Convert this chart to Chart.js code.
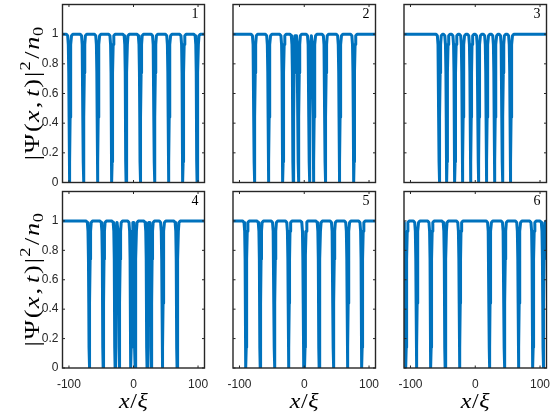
<!DOCTYPE html>
<html>
<head>
<meta charset="utf-8">
<script src="https://cdn.jsdelivr.net/npm/chart.js@4.4.1/dist/chart.umd.min.js"></script>
<style>
  html, body { margin: 0; padding: 0; background: #fff; }
  #wrap { position: relative; width: 553px; height: 412px; }
  #wrap canvas { position: absolute; left: 0; top: 0; }
</style>
</head>
<body>
<div id="wrap"></div>
<script>
const X_MIN = -110, X_MAX = 110;
const Y_MAX = 1.2;
const xTicks = [-100, 0, 100];
const yTicks = [0, 0.2, 0.4, 0.6, 0.8, 1];
const panelNames = ['1', '2', '3', '4', '5', '6'];

// centres of the density dips (x/ξ)
const dips1 = [-99, -77.5, -55.5, -33.5, -11.5, 10.5, 32.5, 54.5, 76.5, 98.5];
const dips2 = [-77, -55, -33, -17, -9, 8, 14.5, 32.5, 54.5, 76.5];
const dips3 = [-55.5, -44, -31.5, -19.5, -7, 5, 17.5, 30, 42, 54.5];
const dips4 = [-68.5, -47, -28.5, -22, -4, 2.5, 21, 27.5, 45, 67.5];
const dips5 = [-90, -68, -46, -24, -0.8, 0.8, 23, 45, 67, 89];
const dips6 = [-107, -90.5, -68.5, -46.5, -24, 22, 45, 67, 89, 105];
const allDips = [dips1, dips2, dips3, dips4, dips5, dips6];

// profile of one dip around its centre
const dipOffset = [-5, -3, -2, -1.3, -0.8, -0.4, 0, 0.4, 0.8, 1.3, 2, 3, 5];
const dipLevel  = [1, 0.99, 0.93, 0.74, 0.44, 0.14, 0, 0.14, 0.44, 0.74, 0.93, 0.99, 1];

// panel frames in page pixels
const colLeft  = [62.5, 233, 404];
const colRight = [204.5, 375.5, 546.5];
const rowTop    = [4.5, 191.5];
const rowBottom = [182.5, 368];

const BLUE = '#0072BD';
const AXIS = '#262626';
const TICK = 2.5;
const Y_AXIS_W = 40;
const X_AXIS_H = 30;

function levelAt(d) {
    const n = dipOffset.length;
    if (d <= dipOffset[0] || d >= dipOffset[n - 1]) return 1;
    for (let i = 1; i < n; i++) {
        if (d <= dipOffset[i]) {
            const t = (d - dipOffset[i - 1]) / (dipOffset[i] - dipOffset[i - 1]);
            return dipLevel[i - 1] + t * (dipLevel[i] - dipLevel[i - 1]);
        }
    }
    return 1;
}

function buildProfile(dips) {
    let xs = [X_MIN, X_MAX];
    dips.forEach(c => dipOffset.forEach(o => xs.push(c + o)));
    xs = xs.filter(v => v >= X_MIN && v <= X_MAX).sort((a, b) => a - b);
    return xs.map(v => ({ x: v, y: Math.min(...dips.map(c => levelAt(v - c))) }));
}

/**
 * Draws a LaTeX-like label made of pieces (italic / upright / sup / sub).
 */
function drawMath(ctx, parts, cx, cy, size, rotate, stretch) {
    const fontFor = p => {
        const s = (p.sup || p.sub) ? size * 0.7 : size;
        return (p.it ? 'italic ' : '') + s + 'px "Liberation Serif"';
    };
    let total = 0;
    parts.forEach(p => { ctx.font = fontFor(p); p.w = ctx.measureText(p.t).width + (p.gap || 0); total += p.w; });
    ctx.save();
    ctx.translate(cx, cy);
    if (rotate) ctx.rotate(-Math.PI / 2);
    ctx.scale(stretch, 1);
    ctx.fillStyle = '#000';
    ctx.textBaseline = 'alphabetic';
    ctx.textAlign = 'left';
    let x = -total / 2;
    const base = size * 0.33;
    parts.forEach(p => {
        ctx.font = fontFor(p);
        let dy = 0;
        if (p.sup) dy = -size * 0.42;
        if (p.sub) dy = size * 0.18;
        ctx.fillText(p.t, x, base + dy);
        x += p.w;
    });
    ctx.restore();
}

const yTitle = [
    { t: '|', gap: 1.5 }, { t: 'Ψ', gap: 1.5 }, { t: '(', gap: 1 }, { t: 'x', it: true, gap: 1.5 },
    { t: ',', gap: 4 }, { t: 't', it: true, gap: 1.5 }, { t: ')', gap: 1.5 }, { t: '|', gap: 1 },
    { t: '2', sup: true, gap: 2 }, { t: '/', gap: 1.5 }, { t: 'n', it: true, gap: 0.5 }, { t: '0', sub: true }
];
const xTitle = [{ t: 'x', it: true, gap: 0.5 }, { t: '/', gap: 0.5 }, { t: 'ξ', it: true }];

const framePlugin = {
    id: 'frame',
    afterDatasetsDraw(chart, args, opts) {
        const { ctx, chartArea: a, scales: { x, y } } = chart;
        ctx.save();
        ctx.strokeStyle = AXIS;
        ctx.lineWidth = 1;
        ctx.beginPath();
        xTicks.forEach(v => {
            const px = x.getPixelForValue(v);
            ctx.moveTo(px, a.bottom); ctx.lineTo(px, a.bottom - TICK);
            ctx.moveTo(px, a.top); ctx.lineTo(px, a.top + TICK);
        });
        yTicks.forEach(v => {
            const py = y.getPixelForValue(v);
            ctx.moveTo(a.left, py); ctx.lineTo(a.left + TICK, py);
            ctx.moveTo(a.right, py); ctx.lineTo(a.right - TICK, py);
        });
        ctx.stroke();
        ctx.lineWidth = 1.4;
        ctx.strokeRect(a.left, a.top, a.right - a.left, a.bottom - a.top);

        ctx.fillStyle = '#000';
        ctx.font = '14px "Liberation Serif"';
        ctx.textAlign = 'right';
        ctx.textBaseline = 'middle';
        ctx.fillText(opts.name, a.right - 6, a.top + 10);

        if (opts.leftCol) drawMath(ctx, yTitle, 32, (a.top + a.bottom) / 2, 21, true, 1.25);
        if (opts.bottomRow) drawMath(ctx, xTitle, (a.left + a.right) / 2, 401, 20, false, 1.2);
        ctx.restore();
    }
};

function renderPanel(i) {
    const col = i % 3, row = Math.floor(i / 3);
    const leftCol = col === 0, bottomRow = row === 1;
    const canvas = document.createElement('canvas');
    canvas.width = 553; canvas.height = 412;
    canvas.style.width = '553px'; canvas.style.height = '412px';
    document.getElementById('wrap').appendChild(canvas);

    new Chart(canvas.getContext('2d'), {
        type: 'line',
        data: {
            datasets: [{
                data: buildProfile(allDips[i]),
                borderColor: BLUE,
                borderWidth: 3,
                borderJoinStyle: 'round',
                borderCapStyle: 'round',
                pointRadius: 0,
                tension: 0,
                fill: false
            }]
        },
        options: getPanelOptions(i, leftCol, bottomRow),
        plugins: [framePlugin]
    });
}

function getPanelOptions(i, leftCol, bottomRow) {
    const col = i % 3, row = Math.floor(i / 3);
    const tickFont = { family: '"Liberation Sans", Arial, sans-serif', size: 12 };
    return {
        responsive: false,
        animation: false,
        events: [],
        layout: {
            autoPadding: false,
            padding: {
                left: colLeft[col] - (leftCol ? Y_AXIS_W : 0),
                right: 553 - colRight[col],
                top: rowTop[row],
                bottom: 412 - rowBottom[row] - (bottomRow ? X_AXIS_H : 0)
            }
        },
        plugins: {
            legend: { display: false },
            tooltip: { enabled: false },
            frame: { name: panelNames[i], leftCol, bottomRow }
        },
        scales: {
            x: {
                type: 'linear',
                min: X_MIN, max: X_MAX,
                display: bottomRow,
                afterBuildTicks: s => { s.ticks = xTicks.map(v => ({ value: v })); },
                afterFit: s => {
                    s.height = bottomRow ? X_AXIS_H : 0;
                    s.paddingLeft = 0; s.paddingRight = 0; s.paddingTop = 0; s.paddingBottom = 0;
                },
                grid: { display: false, drawTicks: false },
                border: { display: false },
                ticks: { color: AXIS, font: tickFont, padding: 9, maxRotation: 0, autoSkip: false, callback: v => String(v) }
            },
            y: {
                type: 'linear',
                min: 0, max: Y_MAX,
                display: leftCol,
                afterBuildTicks: s => { s.ticks = yTicks.map(v => ({ value: v })); },
                afterFit: s => {
                    s.width = leftCol ? Y_AXIS_W : 0;
                    s.paddingLeft = 0; s.paddingRight = 0; s.paddingTop = 0; s.paddingBottom = 0;
                },
                grid: { display: false, drawTicks: false },
                border: { display: false },
                ticks: { color: AXIS, font: tickFont, padding: 4, autoSkip: false, callback: v => String(v) }
            }
        }
    };
}

document.addEventListener('DOMContentLoaded', function () {
    for (let i = 0; i < 6; i++) renderPanel(i);
});
</script>
</body>
</html>
